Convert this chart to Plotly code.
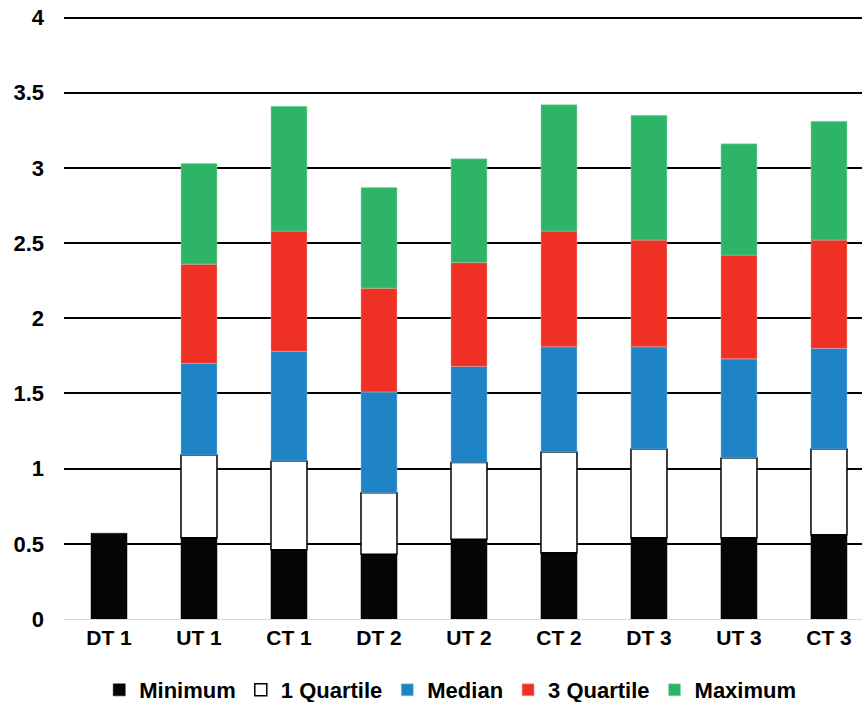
import plotly.graph_objects as go

# Treatment groups and their five-number summaries
groups = ["DT 1", "UT 1", "CT 1", "DT 2", "UT 2", "CT 2", "DT 3", "UT 3", "CT 3"]
minimum = [0.57, 0.54, 0.46, 0.43, 0.53, 0.44, 0.54, 0.54, 0.56]
quartile1 = [None, 1.09, 1.05, 0.84, 1.04, 1.11, 1.13, 1.07, 1.13]
median = [None, 1.70, 1.78, 1.51, 1.68, 1.81, 1.81, 1.73, 1.80]
quartile3 = [None, 2.36, 2.58, 2.20, 2.37, 2.58, 2.52, 2.42, 2.52]
maximum = [None, 3.03, 3.41, 2.87, 3.06, 3.42, 3.35, 3.16, 3.31]

y_ticks = [0, 0.5, 1, 1.5, 2, 2.5, 3, 3.5, 4]
y_tick_text = ["0", "0.5", "1", "1.5", "2", "2.5", "3", "3.5", "4"]

FONT = "Liberation Sans, Arial, sans-serif"


def segment(upper, lower):
    """Height of a stacked segment between two summary levels."""
    return [None if (u is None or l is None) else u - l for u, l in zip(upper, lower)]


zeros = [0] * len(groups)
layers = [
    ("Minimum", minimum, zeros, "#050505", "#050505", 0.5),
    ("1 Quartile", quartile1, minimum, "#ffffff", "#000000", 1.5),
    ("Median", median, quartile1, "#1f84c6", "#8fc3e6", 0.5),
    ("3 Quartile", quartile3, median, "#ee3124", "#f5a09a", 0.5),
    ("Maximum", maximum, quartile3, "#2db466", "#96dab2", 0.5),
]

fig = go.Figure()
for name, upper, lower, fill, edge, lw in layers:
    fig.add_trace(go.Bar(
        name=name,
        x=groups,
        y=segment(upper, lower),
        base=lower,
        width=0.4,
        marker=dict(color=fill, line=dict(color=edge, width=lw)),
    ))

x_font = dict(family=FONT, size=21, color="#000000", weight="bold")
y_font = dict(family=FONT, size=22, color="#000000", weight="bold")

fig.update_layout(
    width=862,
    height=702,
    barmode="overlay",
    plot_bgcolor="#ffffff",
    paper_bgcolor="#ffffff",
    margin=dict(l=64, r=0, t=10, b=83, autoexpand=False),
    font=dict(family=FONT, size=21, color="#000000"),
    showlegend=True,
    legend=dict(
        orientation="h",
        x=0.484,
        xanchor="center",
        yref="container",
        y=0.017,
        yanchor="middle",
        font=dict(family=FONT, size=22, color="#000000", weight="bold"),
        itemwidth=30,
        traceorder="normal",
    ),
    xaxis=dict(
        type="category",
        range=[-0.5, 8.367],
        showgrid=False,
        showline=False,
        ticks="",
        tickfont=x_font,
        ticklabelstandoff=4,
    ),
    yaxis=dict(
        range=[0, 4.05],
        tickvals=y_ticks,
        ticktext=y_tick_text,
        showgrid=True,
        gridcolor="#000000",
        gridwidth=2,
        zeroline=True,
        zerolinecolor="#d9d9d9",
        zerolinewidth=1,
        showline=False,
        ticks="",
        tickfont=y_font,
        ticklabelstandoff=19,
    ),
)

fig.write_html("out.html")
